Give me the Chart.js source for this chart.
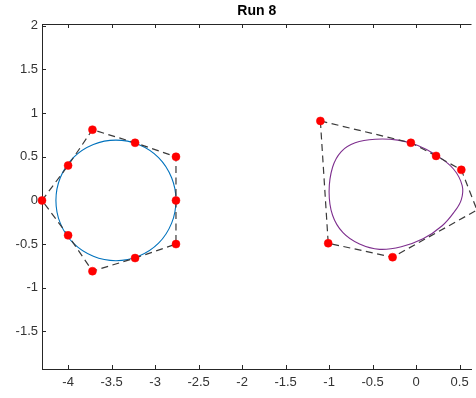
<!DOCTYPE html>
<html>
<head>
<meta charset="utf-8">
<script src="https://cdn.jsdelivr.net/npm/chart.js@4.4.1/dist/chart.umd.min.js"></script>
<style>
  html, body { margin: 0; padding: 0; background: #fff; overflow: hidden; }
</style>
</head>
<body>
<canvas id="runChart" width="476" height="398"></canvas>
<script>
var titleText = "Run 8";
var xTicks = [-4, -3.5, -3, -2.5, -2, -1.5, -1, -0.5, 0, 0.5];
var yTicks = [-1.5, -1, -0.5, 0, 0.5, 1, 1.5, 2];

// left shape: control polygon and its curve
var leftCtrlX = [-4.3, -4.0, -3.72, -3.23, -2.76, -2.76, -2.76, -3.23, -3.72, -4.0];
var leftCtrlY = [0, 0.4, 0.81, 0.66, 0.5, 0, -0.5, -0.66, -0.81, -0.4];
var leftCurveX = [-2.76, -2.81, -2.96, -3.19, -3.45, -3.71, -3.94, -4.09, -4.14, -4.09, -3.94, -3.71, -3.45, -3.19, -2.96, -2.81];
var leftCurveY = [0, 0.26, 0.49, 0.64, 0.69, 0.64, 0.49, 0.26, 0, -0.26, -0.49, -0.64, -0.69, -0.64, -0.49, -0.26];

// right shape: control polygon and its curve
var rightCtrlX = [-1.1, -0.06, 0.23, 0.52, 0.70, -0.27, -1.01];
var rightCtrlY = [0.91, 0.66, 0.51, 0.35, -0.11, -0.65, -0.49];
var rightCurveX = [-0.47, -0.21, 0.02, 0.23, 0.43, 0.53, 0.52, 0.44, 0.30, 0.08, -0.17, -0.42, -0.65, -0.84, -0.96, -1.0, -0.96, -0.86, -0.70];
var rightCurveY = [0.70, 0.69, 0.63, 0.52, 0.36, 0.17, 0.01, -0.13, -0.29, -0.44, -0.53, -0.56, -0.50, -0.37, -0.17, 0.10, 0.38, 0.56, 0.66];

var axisColor = "#262626";
var tickLen = 4;

function toPoints(xs, ys) {
    var pts = [];
    for (var i = 0; i < xs.length; i++) {
        pts.push({ x: xs[i], y: ys[i] });
    }
    return pts;
}

function curveSet(xs, ys, color) {
    return {
        data: toPoints(xs, ys),
        closed: true,
        borderColor: color,
        borderWidth: 1.1,
        tension: 0.4,
        pointRadius: 0,
        fill: false,
        order: 3
    };
}

function polygonSet(xs, ys) {
    return {
        data: toPoints(xs, ys),
        closed: true,
        clip: false,
        borderColor: "#3a3a3a",
        borderWidth: 1.2,
        borderDash: [7, 4.5],
        tension: 0,
        pointRadius: 4,
        pointBackgroundColor: "#ff0000",
        pointBorderColor: "#ff0000",
        pointBorderWidth: 0.5,
        fill: false,
        order: 1
    };
}

// closes curves/polygons and draws the box edge and inward ticks
var boxAxes = {
    id: "boxAxes",
    afterDatasetsUpdate: function (chart) {
        chart.data.datasets.forEach(function (ds, i) {
            if (ds.closed) {
                var line = chart.getDatasetMeta(i).dataset;
                line._loop = true;
                line._fullLoop = true;
            }
        });
    },
    beforeDatasetsDraw: function (chart) {
        var ctx = chart.ctx;
        var a = chart.chartArea;
        var sx = chart.scales.x;
        var sy = chart.scales.y;
        ctx.save();
        ctx.strokeStyle = axisColor;
        ctx.lineWidth = 1;
        ctx.beginPath();
        ctx.moveTo(a.left, Math.round(a.top) + 0.5);
        ctx.lineTo(a.right, Math.round(a.top) + 0.5);
        xTicks.forEach(function (v) {
            var px = Math.round(sx.getPixelForValue(v)) + 0.5;
            ctx.moveTo(px, a.bottom);
            ctx.lineTo(px, a.bottom - tickLen);
            ctx.moveTo(px, a.top);
            ctx.lineTo(px, a.top + tickLen);
        });
        yTicks.forEach(function (v) {
            var py = Math.round(sy.getPixelForValue(v)) + 0.5;
            ctx.moveTo(a.left, py);
            ctx.lineTo(a.left + tickLen, py);
        });
        ctx.stroke();
        ctx.restore();
    }
};

function tickLabel(v) {
    return String(Math.round(v * 100) / 100);
}

new Chart(document.getElementById("runChart"), {
    type: "line",
    data: {
        datasets: [
            polygonSet(leftCtrlX, leftCtrlY),
            polygonSet(rightCtrlX, rightCtrlY),
            curveSet(leftCurveX, leftCurveY, "#0072BD"),
            curveSet(rightCurveX, rightCurveY, "#7E2F8E")
        ]
    },
    options: {
        responsive: false,
        animation: false,
        devicePixelRatio: 1,
        layout: { padding: 0 },
        plugins: {
            legend: { display: false },
            tooltip: { enabled: false },
            title: {
                display: true,
                text: titleText,
                fullSize: false,
                color: "#000",
                font: { family: "'Liberation Sans', Arial, sans-serif", size: 14, weight: "bold", lineHeight: 1.2 },
                padding: { top: 3, bottom: 4.2 }
            }
        },
        scales: {
            x: {
                type: "linear",
                min: -4.3,
                max: 0.637,
                afterFit: function (scale) { scale.height = 29; },
                afterBuildTicks: function (scale) {
                    scale.ticks = xTicks.map(function (v) { return { value: v }; });
                },
                grid: { display: true, drawOnChartArea: false, drawTicks: false },
                border: { display: true, color: axisColor, width: 1 },
                ticks: {
                    includeBounds: false,
                    autoSkip: false,
                    maxRotation: 0,
                    padding: 6,
                    color: "#333",
                    font: { family: "'Liberation Sans', Arial, sans-serif", size: 13 },
                    callback: tickLabel
                }
            },
            y: {
                type: "linear",
                min: -1.93,
                max: 2.02,
                afterFit: function (scale) { scale.width = 42; },
                afterBuildTicks: function (scale) {
                    scale.ticks = yTicks.map(function (v) { return { value: v }; });
                },
                grid: { display: true, drawOnChartArea: false, drawTicks: false },
                border: { display: true, color: axisColor, width: 1 },
                ticks: {
                    includeBounds: false,
                    autoSkip: false,
                    padding: 4,
                    color: "#333",
                    font: { family: "'Liberation Sans', Arial, sans-serif", size: 13 },
                    callback: tickLabel
                }
            }
        }
    },
    plugins: [boxAxes]
});
</script>
</body>
</html>
